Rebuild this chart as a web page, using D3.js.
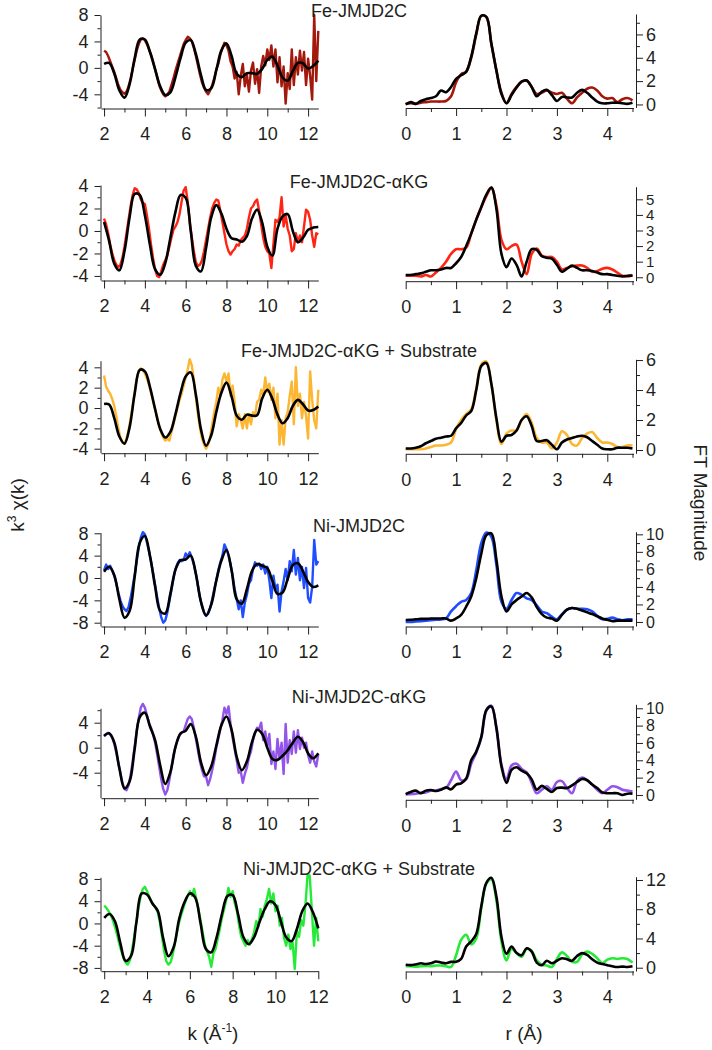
<!DOCTYPE html>
<html>
<head>
<meta charset="utf-8">
<script src="https://cdn.jsdelivr.net/npm/d3@7"></script>
<style>
  body { margin: 0; background: #fff; }
  svg text { font-family: "Liberation Sans", Arial, sans-serif; fill: #231f20; }
</style>
</head>
<body>
<svg id="fig" width="712" height="1050"></svg>
<script>
// sampling grids of the traces (k in 1/A, r in A)
const kFine = d3.range(20, 126).map(i => i / 10);   // 2.0 .. 12.5
const kFine6 = d3.range(20, 121).map(i => i / 10);  // 2.0 .. 12.0
const kFit = d3.range(8, 51).map(i => i / 4);       // 2.0 .. 12.5
const kFit6 = d3.range(8, 49).map(i => i / 4);      // 2.0 .. 12.0
const rGrid = d3.range(0, 46).map(i => i / 10);     // 0 .. 4.5

const titles = ['Fe-JMJD2C', 'Fe-JMJD2C-\u03b1KG', 'Fe-JMJD2C-\u03b1KG + Substrate',
                'Ni-JMJD2C', 'Ni-JMJD2C-\u03b1KG', 'Ni-JMJD2C-\u03b1KG + Substrate'];
const colors = ['#a3180c', '#ff2414', '#fdb631', '#1f4dff', '#9254ea', '#26ea38'];

// ---- k^3 chi(k) data ----
const chiFe = [2.6,2.4,1.8,1.0,0.2,-0.6,-1.6,-2.6,-3.3,-3.7,
  -3.9,-3.6,-2.8,-1.6,-0.2,1.2,2.6,3.6,4.3,4.4,
  4.2,3.6,2.8,2.0,1.0,-0.2,-1.4,-2.6,-3.4,-4.0,
  -4.3,-4.0,-3.6,-2.6,-1.6,-0.4,0.6,1.6,2.6,3.6,
  4.2,4.7,4.5,4.0,3.0,1.8,0.4,-1.0,-2.2,-3.0,
  -3.6,-4.0,-3.4,-2.6,-1.6,-0.2,0.6,2.0,3.0,3.8,
  3.4,2.6,1.0,0.2,-1.6,-0.6,-4.0,-1.2,0.6,-2.8,
  -1.0,-3.6,-0.4,0.8,-2.4,-0.2,-3.8,0.2,1.8,0.4,
  2.8,1.2,3.4,0.2,2.8,-2.2,1.6,-2.8,0.2,-5.4,
  -0.8,-3.2,2.8,-2.6,1.6,-1.0,2.6,-0.4,2.4,-2.6,
  1.4,-1.2,-4.8,8.0,-2.0,5.6];
const chiFeFit = [0.6,0.75,-0.85,-3.4, -4.5,-2.5,1.45,4.3, 4.3,2.4,-0.2,-2.8,
  -4.1,-3.7,-1.4,1.5, 3.8,4.2,2.1,-1.1, -3.35,-3.1,-0.4,2.65, 3.7,1.8,-0.9,-1.4,
  -0.8,-0.8,-0.9,-0.15, 1.2,1.7,0.35,-1.45, -1.95,-0.5,0.75,0.7, -0.1,0.3,1.1];

const chiFeAkg = [1.1,0.6,-0.2,-1.2,-2.0,-2.6,-3.0,-3.2,-3.0,-2.4,
  -1.4,-0.2,1.0,2.2,3.2,3.8,3.7,3.4,2.8,2.5,
  2.4,1.4,0.2,-1.2,-2.4,-3.4,-4.0,-4.1,-3.6,-3.0,
  -2.6,-2.2,-1.4,-0.6,0.1,0.4,0.8,1.5,2.6,3.6,
  3.9,2.6,0.8,-0.6,-1.8,-2.8,-3.1,-3.0,-2.6,-1.8,
  -0.8,0.2,1.2,2.0,2.5,2.8,2.7,1.8,0.8,-0.2,
  -1.2,-1.8,-2.1,-1.8,-1.6,-1.2,-1.3,-0.8,-0.6,-0.4,
  0.2,1.2,2.0,2.2,2.6,2.8,1.8,0.6,-0.6,-1.4,
  -1.8,-2.0,-3.3,-1.2,1.0,0.8,1.2,3.0,0.4,1.4,
  0.2,-0.4,-1.8,-1.6,-0.2,-1.0,-0.4,-1.0,0.4,1.9,
  1.7,1.0,-0.4,-1.4,-0.2,-0.3];
const chiFeAkgFit = [0.8,-0.9,-2.9,-3.5, -1.8,1.2,3.3,3.2, 1.4,-1.25,-3.4,-3.9,
  -2.85,-0.6,1.7,3.2, 2.95,0.0,-3.1,-3.6, -1.5,1.2,2.3,1.55, 0.2,-0.65,-0.75,-0.95,
  -0.45,1.1,1.9,0.75, -1.4,-2.2,0.2,1.3, 1.5,0.0,-1.0,-0.6, 0.1,0.3,0.35];

const chiFeAkgSub = [3.2,2.1,1.7,1.4,0.9,0.2,-0.8,-2.0,-2.9,-3.4,
  -3.5,-3.0,-2.2,-1.0,0.2,1.6,2.8,3.6,3.9,3.7,
  3.4,2.9,2.3,1.5,0.7,-0.1,-0.9,-1.7,-2.4,-2.9,
  -3.2,-3.0,-3.2,-2.4,-1.6,-0.8,0.0,0.8,1.4,2.2,
  3.0,3.8,4.8,4.2,2.8,1.0,-0.6,-2.0,-3.0,-3.6,
  -4.0,-3.6,-2.8,-1.6,-0.4,0.6,2.0,1.2,2.8,3.4,
  2.6,3.4,1.2,2.2,0.6,-1.8,-0.6,-1.2,-2.0,-0.6,
  -2.0,-0.6,-1.6,-0.4,-0.8,0.6,0.8,1.8,1.2,3.0,
  1.6,2.4,0.8,2.0,-1.0,1.4,-3.6,-1.2,-3.6,-1.0,
  -0.4,1.2,2.6,-1.6,4.0,0.2,1.4,-1.0,0.6,-0.8,
  -3.0,3.6,0.8,-1.2,-2.0,1.8];
const chiFeAkgSubFit = [0.4,0.35,-1.0,-2.8, -3.5,-1.9,1.4,3.75, 3.6,2.05,-0.1,-2.05,
  -2.9,-2.35,-0.6,1.5, 3.1,3.5,1.3,-2.1, -3.7,-2.7,-0.4,1.5, 2.5,1.15,-0.75,-1.15,
  -0.65,-0.75,-0.7,0.95, 1.8,0.9,-0.65,-1.5, -1.0,0.2,0.8,0.37, -0.25,-0.2,0.15];

const chiNi = [1.4,2.4,1.6,2.2,1.4,0.4,-1.0,-2.6,-4.0,-5.0,
  -5.6,-5.9,-5.2,-3.6,-1.6,0.6,3.0,5.4,7.2,8.2,
  7.8,6.4,4.8,3.0,1.0,-1.2,-3.4,-5.4,-7.0,-8.0,
  -7.6,-6.2,-4.2,-2.2,-0.2,1.6,2.6,3.2,3.0,3.2,
  4.4,3.8,4.6,3.6,2.4,0.8,-1.4,-3.4,-5.0,-6.2,
  -6.8,-6.4,-5.4,-3.8,-2.0,-0.4,1.4,2.8,4.0,6.0,
  5.2,4.0,2.4,0.4,-2.0,-3.8,-5.6,-4.0,-7.0,-4.4,
  -3.0,-1.0,-0.4,1.6,2.8,2.2,2.6,1.6,2.4,0.8,
  2.0,-0.4,-3.6,0.4,-2.0,-1.2,-6.0,-2.4,-0.6,1.6,
  -0.4,3.0,1.2,5.0,0.6,3.6,-0.4,2.0,-1.8,1.8,
  -3.6,-4.4,-1.6,6.8,2.4,3.0];
const chiNiFit = [1.1,2.0,0.5,-3.8, -7.1,-5.9,0.2,6.3, 7.5,3.95,-1.5,-5.9,
  -6.35,-2.8,1.5,3.2, 3.3,4.0,0.7,-4.3, -6.7,-4.8,-0.5,3.1, 5.0,1.4,-3.8,-4.6,
  -2.0,1.25,2.5,2.2, 1.75,-0.55,-2.85,-2.6, -0.15,2.3,2.65,1.2, -0.7,-1.6,-1.3];

const chiNiAkg = [1.8,2.2,2.4,2.1,1.6,0.6,-0.8,-2.4,-4.0,-5.6,
  -6.6,-6.8,-6.0,-4.4,-2.2,0.2,2.6,4.8,6.4,7.0,
  6.4,5.2,4.0,3.2,2.2,0.8,-1.0,-3.0,-5.0,-6.6,
  -7.5,-6.8,-5.2,-3.2,-1.2,0.2,1.2,2.0,2.4,2.6,
  3.6,4.6,5.0,4.6,3.2,1.4,-0.4,-2.2,-3.6,-4.6,
  -4.6,-6.0,-5.0,-3.6,-2.0,0.0,1.4,3.0,4.4,6.4,
  5.4,6.6,3.8,1.6,-0.2,-2.0,-4.0,-3.8,-5.6,-4.2,
  -3.2,-1.6,-0.6,1.2,2.4,3.2,3.0,4.0,1.2,2.6,
  0.2,2.2,-2.6,-0.6,-3.4,1.4,-1.8,0.8,-4.2,3.8,
  -2.4,1.2,-1.0,2.6,-0.8,2.8,-0.2,1.6,0.0,0.8,
  -1.2,-2.4,-0.6,-2.2,-3.0,-1.0];
const chiNiAkgFit = [1.9,2.3,0.85,-3.3, -6.5,-5.4,-0.2,4.9, 5.6,3.4,1.2,-2.8,
  -5.8,-3.9,0.1,2.3, 2.7,3.8,1.75,-2.35, -4.4,-3.0,0.3,3.6, 5.0,2.85,-1.45,-3.6,
  -2.2,0.9,2.85,2.2, 0.0,-1.8,-1.95,-1.3, -0.4,0.8,1.75,0.9, -0.9,-1.7,-0.9];

const chiNiAkgSub = [3.2,2.8,2.2,1.6,0.6,-0.6,-2.0,-3.6,-5.0,-6.2,
  -7.0,-7.4,-6.6,-4.8,-2.4,0.2,2.8,4.8,6.2,6.6,
  5.8,4.8,4.0,3.4,2.8,2.0,0.2,-2.4,-5.0,-6.8,
  -7.4,-7.0,-5.6,-3.6,-1.6,0.2,1.6,2.8,4.0,5.0,
  5.8,5.0,6.2,4.4,2.6,0.6,-1.6,-3.8,-5.0,-6.0,
  -7.8,-5.4,-4.6,-2.8,-1.0,1.0,2.6,4.2,6.4,4.8,
  5.8,3.6,2.2,-0.4,-2.4,-3.2,-4.0,-3.0,-3.8,-2.8,
  -1.6,0.4,-0.6,2.6,1.2,3.2,4.4,6.2,3.6,5.4,
  2.2,3.2,-0.4,1.0,-2.6,-4.0,-2.0,-4.6,-3.4,-8.2,
  -1.4,-2.4,0.6,-0.4,3.4,8.8,8.6,2.2,-4.0,1.0,
  -3.2];
const chiNiAkgSubFit = [1.0,1.7,0.4,-3.5, -6.75,-5.9,0.1,5.4, 5.2,3.6,2.3,-2.6,
  -5.9,-4.2,0.8,3.8, 5.4,4.65,0.05,-4.6, -5.2,-2.5,1.7,4.9, 5.1,1.7,-2.45,-3.75,
  -2.5,0.2,2.6,4.0, 3.3,0.4,-2.5,-3.2, -1.0,2.2,3.6,2.0, -0.9];

// ---- FT magnitude ----
const ftFe = [0.05,0.1,0.05,0.15,0.2,0.25,0.25,0.25,0.3,0.7,
  1.9,2.6,2.8,4.0,6.0,7.6,7.5,5.2,2.9,1.0,
  0.1,0.9,1.5,1.95,2.05,1.5,0.9,1.0,1.2,1.0,
  0.9,1.0,0.5,0.1,0.6,1.0,1.35,1.45,1.2,0.7,
  0.5,0.55,0.2,0.45,0.55,0.35];
const ftFeFit = [0.0,0.2,0.05,0.3,0.45,0.55,0.7,1.2,1.05,1.5,
  2.2,2.5,2.8,4.1,6.1,7.6,7.5,5.2,2.9,0.9,
  0.1,0.8,1.45,1.95,2.05,1.5,0.7,1.1,1.25,0.8,
  0.3,0.65,0.6,0.6,1.0,1.25,1.0,0.6,0.25,0.1,
  0.1,0.15,0.15,0.1,0.05,0.15];
const ftFeAkg = [0.1,0.1,0.1,0.05,0.15,0.05,0.3,0.6,1.0,1.5,
  1.8,1.8,1.9,2.8,3.7,4.5,5.2,5.75,4.6,2.4,
  1.8,2.0,2.1,1.0,0.2,1.5,1.85,1.4,1.3,1.3,
  1.0,0.5,0.6,0.7,0.75,0.75,0.6,0.35,0.4,0.55,
  0.6,0.5,0.3,0.1,0.05,0.15];
const ftFeAkgFit = [0.15,0.15,0.2,0.25,0.35,0.45,0.45,0.5,0.6,0.6,
  0.9,1.3,2.0,2.8,3.7,4.5,5.3,5.75,4.4,1.5,
  0.65,1.2,0.8,0.05,1.0,1.8,1.75,1.35,1.25,1.2,
  0.8,0.35,0.55,0.75,0.6,0.45,0.45,0.4,0.3,0.2,
  0.2,0.15,0.1,0.05,0.1,0.1];
const ftFeAkgSub = [0.05,0.05,0.05,0.05,0.1,0.2,0.3,0.3,0.35,0.5,
  1.4,2.0,2.4,2.7,4.1,5.7,5.9,4.4,2.0,0.4,
  1.1,1.3,1.3,2.0,2.4,1.8,0.8,0.5,0.5,0.1,
  0.5,1.25,1.0,0.4,0.3,0.8,1.1,1.2,0.8,0.5,
  0.5,0.4,0.2,0.2,0.3,0.3];
const ftFeAkgSubFit = [0.1,0.1,0.15,0.25,0.45,0.6,0.75,0.82,0.9,0.95,
  1.45,1.8,2.3,2.6,4.0,5.6,5.8,4.4,2.1,0.55,
  0.95,1.0,1.3,2.0,2.25,1.6,0.6,0.6,0.65,0.35,
  0.05,0.5,0.7,0.8,0.9,0.95,0.85,0.6,0.35,0.1,
  0.05,0.05,0.15,0.15,0.15,0.1];
const ftNi = [0.0,0.0,0.05,0.1,0.15,0.2,0.25,0.3,0.4,1.2,
  1.8,2.3,2.5,3.3,5.9,9.0,10.2,9.7,6.5,2.3,
  1.5,2.5,3.3,3.1,2.7,2.5,1.9,1.2,1.0,0.6,
  0.3,0.9,1.4,1.6,1.5,1.5,1.45,1.2,0.7,0.3,
  0.35,0.5,0.3,0.2,0.3,0.3];
const ftNiFit = [0.23,0.25,0.3,0.35,0.35,0.4,0.4,0.4,0.4,0.15,
  0.4,0.8,1.75,2.9,5.0,7.8,9.9,10.1,7.1,2.9,
  1.2,2.0,2.5,2.9,3.3,2.8,1.7,0.9,0.5,0.4,
  0.15,0.8,1.4,1.6,1.5,1.3,1.1,0.9,0.65,0.4,
  0.25,0.1,0.15,0.15,0.15,0.15];
const ftNiAkg = [0.05,0.1,0.15,0.25,0.3,0.5,0.5,0.7,0.8,1.7,
  2.7,1.7,1.8,3.6,4.9,6.6,9.7,10.3,7.8,3.5,
  1.8,3.4,3.6,3.0,2.6,1.4,0.2,0.6,1.0,0.6,
  1.5,1.6,0.8,0.2,1.6,2.0,1.7,1.2,0.6,0.2,
  0.6,1.0,0.9,0.6,0.5,0.4];
const ftNiAkgFit = [0.1,0.35,0.5,0.2,0.5,0.58,0.45,0.6,0.88,0.65,
  1.2,1.35,1.9,4.0,5.0,6.7,9.8,10.2,7.7,3.3,
  1.4,2.9,3.2,2.8,2.5,1.8,0.6,1.05,0.7,0.35,
  0.8,0.85,0.8,1.1,1.5,1.85,1.7,1.2,0.8,0.3,
  0.2,0.2,0.2,0.0,0.15,0.15];
const ftNiAkgSub = [0.2,0.2,0.15,0.2,0.25,0.2,0.3,0.3,0.2,0.1,
  1.7,3.8,4.5,3.2,4.0,8.2,11.5,12.1,9.2,3.6,
  1.0,2.6,2.0,1.5,2.6,2.3,1.0,0.4,0.3,0.1,
  1.2,2.1,1.6,0.8,0.8,1.8,2.2,1.9,1.3,0.6,
  1.1,1.3,1.2,1.3,1.2,0.7];
const ftNiAkgSubFit = [0.4,0.35,0.45,0.6,0.5,0.6,0.85,0.7,0.6,0.8,
  0.8,1.2,2.9,3.6,4.6,8.4,11.6,12.3,9.7,4.2,
  1.9,2.9,2.0,1.7,2.65,2.2,0.7,0.35,0.95,0.6,
  0.95,1.3,1.15,0.95,1.6,2.0,1.75,1.15,0.7,0.5,
  0.35,0.2,0.1,0.15,0.1,0.2];

// axis ticks per row
const chiMajor = [[-4,0,4,8],[-4,-2,0,2,4],[-4,-2,0,2,4],[-8,-4,0,4,8],[-4,0,4],[-8,-4,0,4,8]];
const chiMinor = [[-6,-2,2,6],[-3,-1,1,3],[-3,-1,1,3],[-6,-2,2,6],[-6,-2,2,6],[-6,-2,2,6]];
const ftMajor = [[0,2,4,6],[0,1,2,3,4,5],[0,2,4,6],[0,2,4,6,8,10],[0,2,4,6,8,10],[0,4,8,12]];
const ftMinor = [[1,3,5,7],[],[1,3,5],[1,3,5,7,9],[1,3,5,7,9],[2,6,10]];
const kMajor = [2,4,6,8,10,12], kMinor = [3,5,7,9,11];
const rMajor = [0,1,2,3,4], rMinor = [0.5,1.5,2.5,3.5,4.5];

const rows = [
  {chi: chiFe, chiFit: chiFeFit, ft: ftFe, ftFit: ftFeFit},
  {chi: chiFeAkg, chiFit: chiFeAkgFit, ft: ftFeAkg, ftFit: ftFeAkgFit},
  {chi: chiFeAkgSub, chiFit: chiFeAkgSubFit, ft: ftFeAkgSub, ftFit: ftFeAkgSubFit},
  {chi: chiNi, chiFit: chiNiFit, ft: ftNi, ftFit: ftNiFit},
  {chi: chiNiAkg, chiFit: chiNiAkgFit, ft: ftNiAkg, ftFit: ftNiAkgFit},
  {chi: chiNiAkgSub, chiFit: chiNiAkgSubFit, ft: ftNiAkgSub, ftFit: ftNiAkgSubFit}
];

// panel placement (pixels)
const layout = [
  {kDom: [1.85, 12.5], chiDom: [-6.07, 8.0],  chiRng: [108, 15],      ftDom: [-0.26, 7.75], ftRng: [107.5, 14],    titleY: 17,  ftFont: 18},
  {kDom: [1.85, 12.5], chiDom: [-4.36, 4.09], chiRng: [280, 185],     ftDom: [-0.22, 5.81], ftRng: [280.7, 186.7], titleY: 188, ftFont: 15},
  {kDom: [1.85, 12.5], chiDom: [-4.39, 4.65], chiRng: [452.7, 360.7], ftDom: [-0.22, 6.05], ftRng: [453.3, 359.3], titleY: 357, ftFont: 18},
  {kDom: [1.85, 12.5], chiDom: [-8.59, 8.14], chiRng: [626, 532.5],   ftDom: [-0.46, 10.3], ftRng: [626, 531.7],   titleY: 532, ftFont: 16},
  {kDom: [1.85, 12.5], chiDom: [-8.0, 6.3],   chiRng: [797.7, 708.3], ftDom: [-0.5, 10.46], ftRng: [799.3, 704.3], titleY: 703, ftFont: 16},
  {kDom: [1.85, 12.0], chiDom: [-8.5, 8.3],   chiRng: [970.7, 877.3], ftDom: [-0.45, 12.45], ftRng: [971, 876.7],  titleY: 875, ftFont: 18}
];

const svg = d3.select('#fig');
const fmt = d => String(d);
const FONT = '"Liberation Sans", Arial, sans-serif';

function styleAxis(g, size) {
  g.attr('font-size', size).attr('font-family', FONT);
  g.selectAll('path, line').attr('stroke', '#231f20').attr('stroke-width', 1);
  g.selectAll('text').attr('fill', '#231f20');
}

rows.forEach((row, i) => {
  const L = layout[i];
  const kx = d3.scaleLinear().domain(L.kDom).range([101, 318.3]);
  const ky = d3.scaleLinear().domain(L.chiDom).range(L.chiRng);
  const rx = d3.scaleLinear().domain([0, 4.52]).range([405.7, 633.5]);
  const ry = d3.scaleLinear().domain(L.ftDom).range(L.ftRng);
  const kGrid = i === 5 ? kFine6 : kFine;
  const kFitGrid = i === 5 ? kFit6 : kFit;

  // chi(k) axes
  svg.append('g').attr('transform', 'translate(100.5,0)')
    .call(d3.axisLeft(ky).tickValues(chiMinor[i]).tickSize(3).tickFormat(''))
    .call(g => { g.select('.domain').remove(); styleAxis(g, 18); });
  svg.append('g').attr('transform', 'translate(100.5,0)')
    .call(d3.axisLeft(ky).tickValues(chiMajor[i]).tickSize(6).tickPadding(6).tickSizeOuter(0).tickFormat(fmt))
    .call(g => styleAxis(g, 18));
  const xb = L.chiRng[0] + 0.5;
  svg.append('g').attr('transform', `translate(0,${xb})`)
    .call(d3.axisBottom(kx).tickValues(kMinor.filter(v => v < L.kDom[1])).tickSize(4).tickFormat(''))
    .call(g => { g.select('.domain').remove(); styleAxis(g, 18); });
  svg.append('g').attr('transform', `translate(0,${xb})`)
    .call(d3.axisBottom(kx).tickValues(kMajor).tickSize(8).tickPadding(11).tickSizeOuter(0).tickFormat(fmt))
    .call(g => styleAxis(g, 18));

  // FT axes
  svg.append('g').attr('transform', 'translate(636,0)')
    .call(d3.axisRight(ry).tickValues(ftMinor[i]).tickSize(4).tickFormat(''))
    .call(g => { g.select('.domain').remove(); styleAxis(g, 18); });
  svg.append('g').attr('transform', 'translate(636,0)')
    .call(d3.axisRight(ry).tickValues(ftMajor[i]).tickSize(7).tickPadding(3).tickSizeOuter(0).tickFormat(fmt))
    .call(g => styleAxis(g, L.ftFont));
  const rb = L.ftRng[0] + 0.5;
  svg.append('g').attr('transform', `translate(0,${rb})`)
    .call(d3.axisBottom(rx).tickValues(rMinor).tickSize(4).tickFormat(''))
    .call(g => { g.select('.domain').remove(); styleAxis(g, 18); });
  svg.append('g').attr('transform', `translate(0,${rb})`)
    .call(d3.axisBottom(rx).tickValues(rMajor).tickSize(8).tickPadding(11).tickSizeOuter(0).tickFormat(fmt))
    .call(g => styleAxis(g, 18));

  // traces
  const chiLine = d3.line().x((d, j) => kx(kGrid[j])).y(d => ky(d));
  const chiFitLine = d3.line().curve(d3.curveCatmullRom).x((d, j) => kx(kFitGrid[j])).y(d => ky(d));
  const ftLine = d3.line().curve(d3.curveCatmullRom).x((d, j) => rx(rGrid[j])).y(d => ry(d));

  svg.append('path').datum(row.chi).attr('d', chiLine)
    .attr('fill', 'none').attr('stroke', colors[i]).attr('stroke-width', 2.4).attr('stroke-linejoin', 'round');
  svg.append('path').datum(row.chiFit).attr('d', chiFitLine)
    .attr('fill', 'none').attr('stroke', '#000').attr('stroke-width', 2.6);
  svg.append('path').datum(row.ft).attr('d', ftLine)
    .attr('fill', 'none').attr('stroke', colors[i]).attr('stroke-width', 2.6);
  svg.append('path').datum(row.ftFit).attr('d', ftLine)
    .attr('fill', 'none').attr('stroke', '#000').attr('stroke-width', 2.6);

  svg.append('text').attr('x', 359).attr('y', L.titleY)
    .attr('text-anchor', 'middle').attr('font-size', 18).text(titles[i]);
});

// axis titles
const yl = svg.append('text').attr('transform', 'translate(24,505) rotate(-90)')
  .attr('text-anchor', 'middle').attr('font-size', 19);
yl.append('tspan').text('k');
yl.append('tspan').attr('dy', -8).attr('font-size', 12).text('3');
yl.append('tspan').attr('dy', 8).text(' \u03c7(k)');

svg.append('text').attr('transform', 'translate(694,503) rotate(90)')
  .attr('text-anchor', 'middle').attr('font-size', 19).text('FT Magnitude');

const xl = svg.append('text').attr('x', 213).attr('y', 1040)
  .attr('text-anchor', 'middle').attr('font-size', 19);
xl.append('tspan').text('k (\u00c5');
xl.append('tspan').attr('dy', -8).attr('font-size', 12).text('-1');
xl.append('tspan').attr('dy', 8).text(')');

svg.append('text').attr('x', 524).attr('y', 1040)
  .attr('text-anchor', 'middle').attr('font-size', 19).text('r (\u00c5)');
</script>
</body>
</html>
